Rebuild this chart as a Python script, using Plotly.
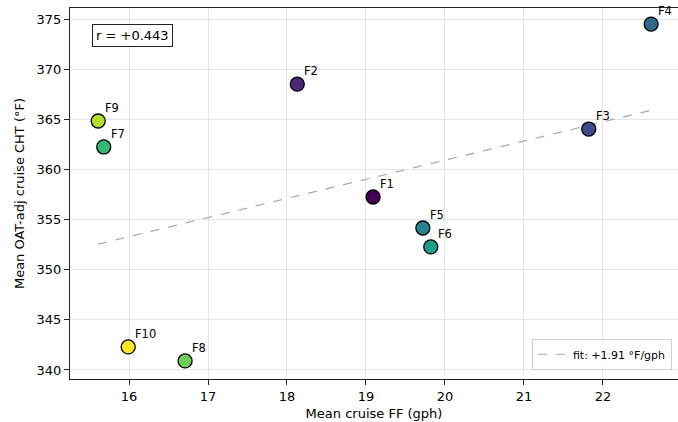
import numpy as np
import plotly.graph_objects as go

labels = ["F1", "F2", "F3", "F4", "F5", "F6", "F7", "F8", "F9", "F10"]
mean_ff = [19.09, 18.13, 21.82, 22.61, 19.72, 19.82, 15.68, 16.71, 15.61, 15.99]
mean_cht = [357.25, 368.5, 364.03, 374.5, 354.16, 352.27, 362.24, 340.9, 364.83, 342.3]
colors = ["#440154", "#482878", "#3e4989", "#31688e", "#26828e",
          "#1f9e89", "#35b779", "#6ece58", "#b5de2b", "#fde725"]
r_text = "r = +0.443"
fit_text = "fit: +1.91 °F/gph"

x = np.array(mean_ff)
y = np.array(mean_cht)
slope, intercept = np.polyfit(x, y, 1)
fx = np.array([x.min(), x.max()])
fy = slope * fx + intercept

fig = go.Figure()
fig.add_trace(go.Scatter(
    x=fx, y=fy, mode="lines", name=fit_text,
    line=dict(color="#a8a8a8", width=1.2, dash="dash"),
    showlegend=True, hoverinfo="skip"))
fig.add_trace(go.Scatter(
    x=mean_ff, y=mean_cht, mode="markers", showlegend=False,
    marker=dict(size=14, color=colors, line=dict(color="black", width=1.3)),
    text=labels))

for lab, xv, yv in zip(labels, mean_ff, mean_cht):
    fig.add_annotation(x=xv, y=yv, text=lab, showarrow=False,
                       xanchor="left", yanchor="bottom", xshift=5, yshift=4,
                       font=dict(size=11.5, color="black"))

fig.add_annotation(xref="paper", yref="paper", x=0.036, y=0.957,
                   xanchor="left", yanchor="top", text=r_text, showarrow=False,
                   font=dict(size=13, color="black"),
                   bordercolor="#222", borderwidth=1, borderpad=3, bgcolor="white")

axis_common = dict(
    showgrid=True, gridcolor="rgba(0,0,0,0.1)", gridwidth=1,
    showline=True, linecolor="#222", linewidth=1,
    ticks="outside", ticklen=5, tickcolor="#222", tickwidth=1,
    tickfont=dict(size=13, color="black"), zeroline=False,
)
fig.update_xaxes(range=[15.253, 22.95], tickvals=[16, 17, 18, 19, 20, 21, 22], mirror=True,
                 title=dict(text="Mean cruise FF (gph)", font=dict(size=13, color="black"),
                            standoff=6), **axis_common)
fig.update_yaxes(range=[339.1, 376.1], tickvals=[340, 345, 350, 355, 360, 365, 370, 375], mirror=False,
                 title=dict(text="Mean OAT-adj cruise CHT (°F)", font=dict(size=13, color="black"),
                            standoff=9), **axis_common)

fig.update_layout(
    width=678, height=422,
    margin=dict(l=70, r=0, t=8, b=43, autoexpand=False),
    plot_bgcolor="white", paper_bgcolor="white",
    font=dict(family="DejaVu Sans", color="black"),
    legend=dict(x=0.99, y=0.025, xanchor="right", yanchor="bottom",
                bgcolor="rgba(255,255,255,0.8)", bordercolor="#d0d0d0", borderwidth=1,
                font=dict(size=11, color="black"), itemwidth=30),
    showlegend=True,
)
fig.write_html("out.html", config={"displayModeBar": False},
               post_script="document.body.style.margin='0';document.body.style.overflow='hidden';")
